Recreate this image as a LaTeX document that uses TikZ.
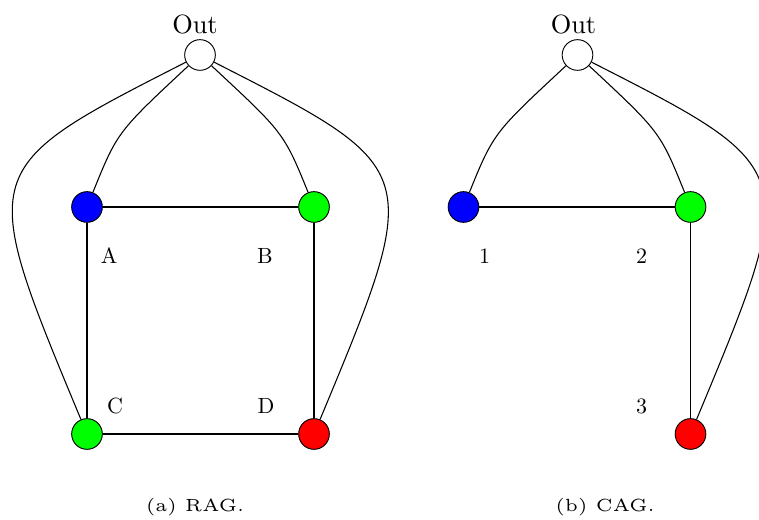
\documentclass[tikz,border=0pt]{standalone}

\tikzset{
  region/.style={circle, draw, line width=0.7pt, minimum size=23pt, inner sep=0pt},
  link/.style={line width=0.8pt},
  lbl/.style={font=\fontsize{10}{12}\selectfont, scale=1.65, transform shape, inner sep=0pt},
  outlbl/.style={font=\fontsize{10}{12}\selectfont, scale=1.98, transform shape, inner sep=0pt},
  caption/.style={font=\fontsize{5}{6}\selectfont, scale=2.64, transform shape, inner sep=0pt}
}

\begin{document}
\begin{tikzpicture}[x=0.75pt, y=0.75pt]
    \useasboundingbox (0,0) rectangle (759,520);
    \clip (0,0) rectangle (759,520);

    % --- (a) RAG ---
    \node[region, fill=white] (outA) at (200,465) {};
    \foreach \name/\x/\y/\col in {A/87/313/blue, B/314/313/green, C/87/86/green, D/314/86/red} {
        \node[region, fill=\col] (\name) at (\x,\y) {};
    }
    \node[outlbl] (labOutA) at (195,495.5) {Out};
    \foreach \name/\x/\y in {A/109/264.5, B/265/264.5, C/115/114.5, D/266/114.5} {
        \node[lbl] (lab\name) at (\x,\y) {\name};
    }

    \draw[link] (A) -- (B) -- (D) -- (C) -- (A);
    \draw[link] (outA) .. controls +(-137:113) and +(68:81) .. (A);
    \draw[link] (outA) .. controls +(-43:113) and +(112:81) .. (B);
    \draw[link] (outA) .. controls +(-153:251) and +(112.6:288) .. (C);
    \draw[link] (outA) .. controls +(-27:251) and +(67.4:288) .. (D);

    \node[caption] (capA) at (195,12.5) {(a) RAG.};

    % --- (b) CAG ---
    \node[region, fill=white] (outB) at (577.5,465) {};
    \node[region, fill=blue] (one) at (463.5,313) {};
    \node[region, fill=green] (two) at (690.5,313) {};
    \node[region, fill=red] (three) at (690.5,86) {};
    \node[outlbl] (labOutB) at (573.5,495.5) {Out};
    \node[lbl] (labOne) at (484.5,263.5) {1};
    \node[lbl] (labTwo) at (641.5,263.5) {2};
    \node[lbl] (labThree) at (641.5,114) {3};

    \draw[link] (one) -- (two) -- (three);
    \draw[link] (outB) .. controls +(-137:113) and +(68:81) .. (one);
    \draw[link] (outB) .. controls +(-43:113) and +(112:81) .. (two);
    \draw[link] (outB) .. controls +(-27:251) and +(67.4:288) .. (three);

    \node[caption] (capB) at (605,12.5) {(b) CAG.};

\end{tikzpicture}
\end{document}
